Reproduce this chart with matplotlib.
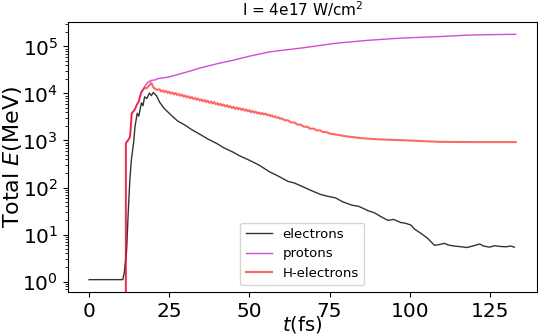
import matplotlib
matplotlib.use("Agg")
import matplotlib.pyplot as plt
import numpy as np

# electrons (fs, MeV)
t_el = [0, 10.5, 11.0, 11.7, 12.2, 12.7, 13.2, 13.9, 14.3, 15.0, 15.5, 16.3, 16.8,
        17.3, 18.0, 18.8, 19.4, 20.0, 21.0, 22.0, 23.4, 25.5, 27.6, 30, 32, 35,
        37, 40, 42, 45, 47, 50, 53, 56.3, 59, 62, 64, 66.5, 69, 72, 74, 76.9, 79,
        82, 84, 87.1, 89, 91, 93.2, 95, 97.2, 98.5, 100.3, 101.5, 103.4, 105.5,
        107.7, 109, 110.8, 112, 113.8, 116, 117.8, 120, 121.8, 123, 124.9, 126.5,
        128, 130, 131.5, 132.6]
e_el = [1.1, 1.1, 1.6, 4.7, 30, 145, 400, 930, 1950, 3800, 3300, 6300, 5500,
        8500, 7800, 10200, 9000, 10500, 9000, 6500, 4800, 3500, 2600, 2100, 1700,
        1300, 1080, 850, 700, 560, 470, 380, 300, 215, 175, 135, 125, 105, 88, 72,
        66, 60, 50, 42, 40, 32, 29, 24, 20, 21, 18, 17.5, 16, 13, 10.7, 8.4,
        5.9, 6.1, 6.5, 6.0, 5.7, 5.5, 5.3, 5.8, 6.3, 5.7, 5.4, 5.8, 5.6, 5.5, 5.7, 5.4]

# protons
t_pr = [0, 11.35, 11.45, 12.5, 12.8, 13.3, 14.2, 14.8, 15.4, 16.3, 17.3, 18.4,
        19.4, 20.8, 21.2, 25, 30, 34.8, 40, 45, 50, 56, 61, 66.5, 72, 77, 87, 97,
        110, 118, 125, 133]
e_pr = [0, 0, 870, 1100, 1250, 3800, 4500, 5600, 6600, 10700, 14000, 17500,
        19000, 19500, 20500, 22500, 28000, 35000, 43000, 51000, 62000, 76000,
        84000, 93000, 105000, 117000, 135000, 150000, 163000, 174000, 178000, 181000]

# H-electrons
t_he = [0, 11.35, 11.45, 12.5, 12.8, 13.3, 14.2, 14.8, 15.4, 16.3, 17.3, 18.0,
        18.6, 19.4, 20.0, 21.0,
        22, 22.5, 23, 23.5, 24, 24.5, 25, 25.5, 26, 26.5, 27, 27.5, 28, 28.5,
        29, 29.5, 30, 30.5, 31, 31.5, 32, 32.5, 33, 33.5, 34, 34.5, 35, 35.5,
        36, 36.5, 37, 37.5, 38, 38.5, 39, 39.5, 40, 40.5, 41, 41.5, 42, 42.5,
        43, 43.5, 44, 44.5, 45, 45.5, 46, 46.5, 47, 47.5, 48, 48.5, 49, 49.5,
        50, 50.5, 51, 51.5, 52, 52.5, 53, 53.5, 54, 54.5, 55, 55.5, 56, 56.5,
        57, 57.5, 58, 58.5, 59, 59.5, 60,
        61, 62, 63, 64, 65, 66, 67, 68, 69, 70, 71, 72, 73, 74, 75,
        78, 80, 85, 90, 95, 100, 105, 110, 120, 133]
e_he = [0, 0, 870, 1100, 1250, 3800, 4500, 5600, 6600, 10700, 13000, 13000,
        14500, 17000, 13500, 12000,
        12170, 10990, 11650, 10610, 11340, 10270, 10920, 9890, 10500, 9550,
        10190, 9220, 9780, 8880, 9460, 8540, 9050, 8210, 8740, 7920, 8420, 7630,
        8110, 7340, 7800, 7060, 7490, 6820, 7280, 6580, 6970, 6340, 6760, 6140,
        6550, 5900, 6240, 5660, 6030, 5470, 5820, 5280, 5620, 5090, 5410, 4900,
        5200, 4720, 5040, 4580, 4890, 4440, 4730, 4290, 4580, 4150,
        4420, 4000, 4250, 3900, 4100, 3750, 3950, 3650, 3850, 3550, 3750, 3450,
        3580, 3300, 3430, 3180, 3280, 3030, 3120, 2900, 2960,
        2700, 2680, 2420, 2420, 2180, 2170, 1960, 1960, 1780, 1790, 1640, 1640,
        1510, 1510, 1410,
        1300, 1230, 1120, 1060, 1030, 1000, 960, 935, 925, 925]

fig = plt.figure(figsize=(5.38, 3.34), dpi=100)
ax = fig.add_axes([0.126, 0.126, 0.872, 0.808])

ax.plot(np.array(t_el), np.array(e_el), color="k", alpha=0.8, lw=1, label="electrons")
ax.plot(np.array(t_pr), np.array(e_pr), color="m", alpha=0.7, lw=1, label="protons")
ax.plot(np.array(t_he), np.array(e_he), color="r", alpha=0.6, lw=1.5, label="H-electrons")
ax.set_yscale("log")

ax.set_title("I = 4e17 W/cm$^2$", fontsize=11, pad=4)
ax.set_xlabel("$t$(fs)", fontsize=14)
ax.set_ylabel("Total $E$(MeV)", fontsize=16)
ax.xaxis.set_label_coords(0.5, -0.082)
ax.yaxis.set_label_coords(-0.094, 0.5)
ax.tick_params(axis="both", which="major", labelsize=14.5)
ax.set_xticks([0, 25, 50, 75, 100, 125])
ax.legend(loc="lower center", fontsize=9.5)

fig.savefig("out.png", dpi=100)
